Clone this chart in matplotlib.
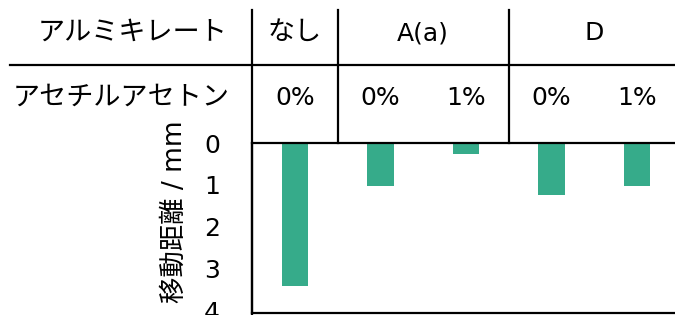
import matplotlib.pyplot as plt
from matplotlib.lines import Line2D
from matplotlib.transforms import blended_transform_factory

plt.rcParams['font.family'] = ['DejaVu Sans', 'Noto Sans CJK JP']
plt.rcParams['font.size'] = 18

# data
chelate_groups = ['なし', 'A(a)', 'D']
group_sizes = [1, 2, 2]
acac_labels = ['0%', '0%', '1%', '0%', '1%']
distance = [3.40, 1.02, 0.27, 1.25, 1.02]
row1_title = 'アルミキレート'
row2_title = 'アセチルアセトン'
ylabel = '移動距離 / mm'

W, H = 675, 315
fig = plt.figure(figsize=(W / 100, H / 100), dpi=100)
ax = fig.add_axes([252 / W, 2 / H, 428 / W, 170 / H])

x = list(range(len(distance)))
ax.bar(x, distance, width=0.31, color='#36ab8a')
ax.set_xlim(-0.5, len(distance) - 0.5)
ax.set_ylim(4.05, 0)
ax.set_yticks([0, 1, 2, 3, 4])
ax.set_xticks([])
ax.tick_params(length=0, pad=23)
for s in ['left', 'top', 'bottom']:
    ax.spines[s].set_linewidth(1.6)
ax.spines['right'].set_visible(False)

fig.text(175 / W, 1 - 212 / H, ylabel, rotation=90, ha='center', va='center',
         fontsize=19)

# header table above the axes
tr = blended_transform_factory(ax.transData, fig.transFigure)
y_row1 = 1 - 33 / H
y_row2 = 1 - 98 / H
y_line = 1 - 65 / H
y_top = 1 - 10 / H
y_zero = 1 - 143 / H

fig.add_artist(Line2D([10 / W, 1], [y_line, y_line], color='black', lw=1.6))
fig.text(228 / W, y_row1, row1_title, ha='right', va='center', fontsize=19.5)
fig.text(230 / W, y_row2, row2_title, ha='right', va='center', fontsize=19.5)

start = 0
for name, n in zip(chelate_groups, group_sizes):
    left = start - 0.5
    bottom = 0 if start == 0 else y_zero
    ax.add_artist(Line2D([left, left], [bottom, y_top], color='black', lw=1.6,
                         transform=tr, clip_on=False))
    size = 19.5 if name == 'なし' else 18
    ax.text(start + (n - 1) / 2, y_row1, name, transform=tr, ha='center',
            va='center', fontsize=size)
    start += n

for i, lab in enumerate(acac_labels):
    ax.text(i, y_row2, lab, transform=tr, ha='center', va='center')

fig.savefig('out.png', dpi=100)
